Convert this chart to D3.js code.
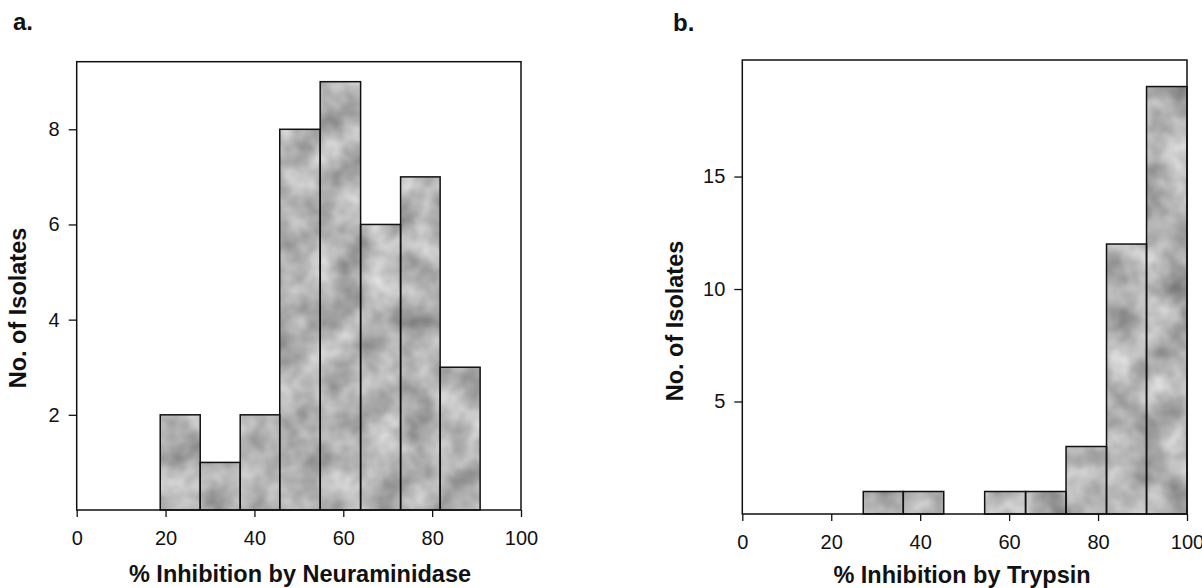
<!DOCTYPE html>
<html>
<head>
<meta charset="utf-8">
<script src="https://cdn.jsdelivr.net/npm/d3@7"></script>
<style>
  body { margin: 0; background: #fff; }
  svg { display: block; }
  text { font-family: "Liberation Sans", Arial, sans-serif; fill: #111; }
</style>
</head>
<body>
<svg id="chart" width="1202" height="588"></svg>
<script>
// Data
const xTicks = [0, 20, 40, 60, 80, 100];

// a. % inhibition by neuraminidase
const aEdges = [18.8, 27.8, 36.8, 45.7, 54.8, 63.9, 72.9, 81.8, 90.8];
const aCounts = [2, 1, 2, 8, 9, 6, 7, 3];
const aYTicks = [2, 4, 6, 8];

// b. % inhibition by trypsin
const bEdges = [27.2, 36.2, 45.3, 54.5, 63.7, 72.8, 81.9, 90.9, 100];
const bCounts = [1, 1, 0, 1, 1, 3, 12, 19];
const bYTicks = [5, 10, 15];

const yTitle = "No. of Isolates";

const svg = d3.select("svg#chart");

// cloudy grey fill like the scanned halftone
const defs = svg.append("defs");
const filt = defs.append("filter").attr("id", "mottle")
  .attr("x", 0).attr("y", 0).attr("width", 1).attr("height", 1)
  .attr("color-interpolation-filters", "sRGB");
filt.append("feTurbulence")
  .attr("type", "fractalNoise")
  .attr("baseFrequency", 0.03)
  .attr("numOctaves", 3)
  .attr("seed", 7)
  .attr("result", "noise");
filt.append("feColorMatrix")
  .attr("in", "noise")
  .attr("type", "matrix")
  .attr("values", "0.5 0 0 0 0.45  0.5 0 0 0 0.45  0.5 0 0 0 0.45  0 0 0 0 1")
  .attr("result", "grey");
filt.append("feComposite")
  .attr("in", "grey").attr("in2", "SourceGraphic").attr("operator", "in");

const panels = [
  { letter: "a.", letterX: 13, letterY: 30,
    edges: aEdges, counts: aCounts, yTicks: aYTicks, yMax: 9.42,
    left: 76.7, right: 521, top: 61.7, bottom: 510,
    xTitle: "% Inhibition by Neuraminidase", xTitleX: 300, xTitleY: 582,
    yTitleX: 26, yTitleY: 308 },
  { letter: "b.", letterX: 673, letterY: 31,
    edges: bEdges, counts: bCounts, yTicks: bYTicks, yMax: 20.18,
    left: 742.3, right: 1187, top: 60, bottom: 514,
    xTitle: "% Inhibition by Trypsin", xTitleX: 962, xTitleY: 583,
    yTitleX: 683, yTitleY: 321 }
];

panels.forEach(p => {
  const g = svg.append("g");
  const x = d3.scaleLinear().domain([0, 100]).range([p.left, p.right]);
  const y = d3.scaleLinear().domain([0, p.yMax]).range([p.bottom, p.top]);

  const bins = p.counts.map((n, i) => ({ x0: p.edges[i], x1: p.edges[i + 1], n: n }))
    .filter(d => d.n > 0);

  // filled bars then their outlines
  g.selectAll("rect.fill").data(bins).join("rect")
    .attr("class", "fill")
    .attr("x", d => x(d.x0))
    .attr("y", d => y(d.n))
    .attr("width", d => x(d.x1) - x(d.x0))
    .attr("height", d => y(0) - y(d.n))
    .attr("fill", "#aaa")
    .attr("filter", "url(#mottle)");

  g.selectAll("rect.edge").data(bins).join("rect")
    .attr("class", "edge")
    .attr("x", d => x(d.x0))
    .attr("y", d => y(d.n))
    .attr("width", d => x(d.x1) - x(d.x0))
    .attr("height", d => y(0) - y(d.n))
    .attr("fill", "none")
    .attr("stroke", "#111")
    .attr("stroke-width", 1.5);

  // frame
  g.append("rect")
    .attr("x", p.left).attr("y", p.top)
    .attr("width", p.right - p.left).attr("height", p.bottom - p.top)
    .attr("fill", "none").attr("stroke", "#111").attr("stroke-width", 1.5);

  const xAxis = g.append("g")
    .attr("transform", `translate(0,${p.bottom})`)
    .call(d3.axisBottom(x).tickValues(xTicks).tickSize(7).tickPadding(14));
  const yAxis = g.append("g")
    .attr("transform", `translate(${p.left},0)`)
    .call(d3.axisLeft(y).tickValues(p.yTicks).tickSize(8).tickPadding(9));

  [xAxis, yAxis].forEach(a => {
    a.select(".domain").remove();
    a.selectAll(".tick line").attr("stroke", "#111").attr("stroke-width", 1.3);
    a.selectAll(".tick text")
      .style("font-family", "'Liberation Sans', Arial, sans-serif")
      .style("font-size", "20px")
      .attr("fill", "#111");
  });

  g.append("text")
    .attr("x", p.xTitleX).attr("y", p.xTitleY)
    .attr("text-anchor", "middle")
    .style("font-size", "23.5px").style("font-weight", "bold")
    .text(p.xTitle);

  g.append("text")
    .attr("transform", `translate(${p.yTitleX},${p.yTitleY}) rotate(-90)`)
    .attr("text-anchor", "middle")
    .style("font-size", "23.5px").style("font-weight", "bold")
    .text(yTitle);

  g.append("text")
    .attr("x", p.letterX).attr("y", p.letterY)
    .style("font-size", "24px").style("font-weight", "bold")
    .text(p.letter);
});
</script>
</body>
</html>
